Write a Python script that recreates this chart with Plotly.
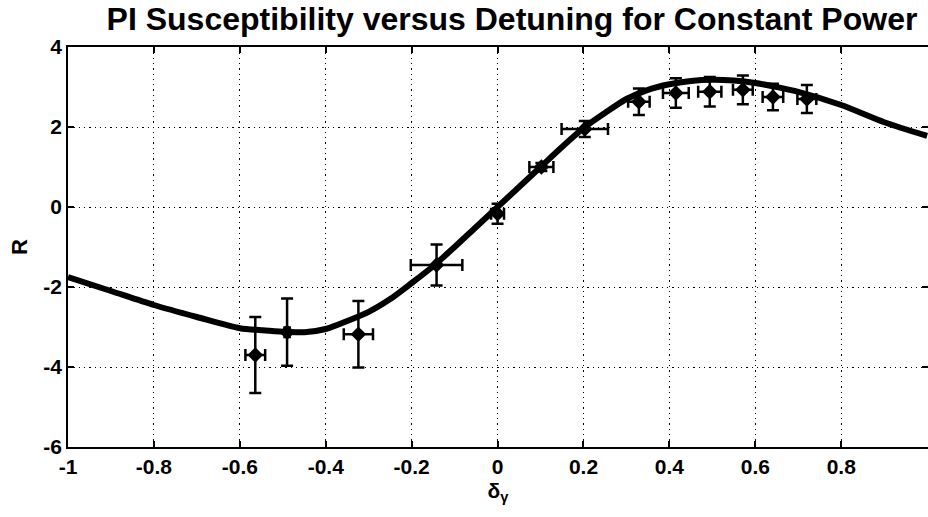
import plotly.graph_objects as go

# Model curve
curve_x = [-1.0, -0.9, -0.8, -0.7, -0.6, -0.55, -0.5, -0.45, -0.4, -0.35, -0.3, -0.25,
           -0.2, -0.15, -0.1, -0.05, 0.0, 0.05, 0.1, 0.15, 0.2, 0.25, 0.3, 0.35, 0.4,
           0.45, 0.5, 0.55, 0.6, 0.65, 0.7, 0.8, 0.9, 1.0]
curve_y = [-1.75, -2.1, -2.45, -2.75, -3.03, -3.08, -3.12, -3.13, -3.05, -2.85, -2.62, -2.3,
           -1.9, -1.48, -1.0, -0.5, 0.0, 0.5, 1.0, 1.5, 1.97, 2.35, 2.7, 2.93, 3.07,
           3.15, 3.18, 3.16, 3.1, 3.0, 2.88, 2.55, 2.12, 1.78]

# Measured points with error bars
pt_x = [-0.564, -0.49, -0.324, -0.142, 0.0, 0.102, 0.203, 0.329, 0.415, 0.494, 0.571, 0.641, 0.72]
pt_y = [-3.7, -3.13, -3.18, -1.45, -0.17, 1.0, 1.95, 2.63, 2.85, 2.88, 2.93, 2.75, 2.7]
err_y = [0.95, 0.84, 0.83, 0.51, 0.25, 0.1, 0.2, 0.33, 0.37, 0.37, 0.36, 0.33, 0.35]
err_x = [0.023, 0.006, 0.034, 0.06, 0.015, 0.028, 0.054, 0.025, 0.03, 0.027, 0.023, 0.024, 0.022]

x_ticks = [-1, -0.8, -0.6, -0.4, -0.2, 0, 0.2, 0.4, 0.6, 0.8, 1]
x_tick_labels = ["-1", "-0.8", "-0.6", "-0.4", "-0.2", "0", "0.2", "0.4", "0.6", "0.8", "1"]
y_ticks = [-6, -4, -2, 0, 2, 4]
y_tick_labels = ["-6", "-4", "-2", "0", "2", "4"]

FONT = "Liberation Sans, Arial, Helvetica, sans-serif"

fig = go.Figure()
fig.add_trace(go.Scatter(
    x=curve_x, y=curve_y, mode="lines",
    line=dict(color="black", width=6, shape="spline", smoothing=0.8),
    hoverinfo="skip", showlegend=False))
fig.add_trace(go.Scatter(
    x=pt_x, y=pt_y, mode="markers",
    marker=dict(color="black", size=12, symbol="diamond"),
    error_y=dict(type="data", array=err_y, visible=True, color="black", thickness=2.5, width=6),
    error_x=dict(type="data", array=err_x, visible=True, color="black", thickness=2.5, width=6),
    showlegend=False))

axis_common = dict(
    showline=True, linecolor="black", linewidth=1.5,
    ticks="inside", ticklen=6, tickcolor="black", tickwidth=1.5,
    mirror="ticks", automargin=False,
    showgrid=True, gridcolor="black", gridwidth=1.3, griddash="1.3px,4px",
    zeroline=False,
    tickfont=dict(family=FONT, size=21, color="black", weight="bold"),
)

fig.update_xaxes(range=[-1, 1.002], tickvals=x_ticks, ticktext=x_tick_labels,
                 title=dict(text="δ<sub>γ</sub>", standoff=6,
                            font=dict(family=FONT, size=21, color="black", weight="bold")),
                 **axis_common)
fig.update_yaxes(range=[-6, 4], tickvals=y_ticks, ticktext=y_tick_labels,
                 title=dict(text="R", standoff=10,
                            font=dict(family=FONT, size=22, color="black", weight="bold")),
                 **axis_common)

fig.update_layout(
    width=928, height=517,
    margin=dict(l=68, r=0, t=47, b=70, autoexpand=False),
    paper_bgcolor="white", plot_bgcolor="white",
    title=dict(text="PI Susceptibility versus Detuning for Constant Power",
               x=512 / 928, xanchor="center", xref="container", y=0.963, yanchor="middle",
               yref="container", automargin=False,
               font=dict(family=FONT, size=32, color="black", weight="bold")),
)

fig.write_html("out.html", config={"displayModeBar": False},
               post_script="document.body.style.margin='0px';document.body.style.overflow='hidden';")
